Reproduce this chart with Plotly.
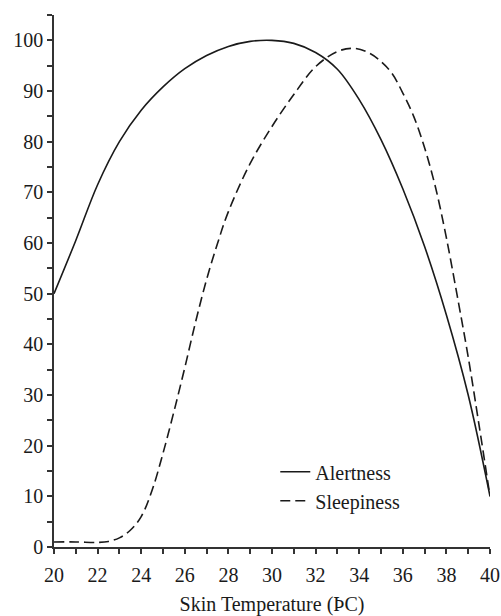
import plotly.graph_objects as go

# Data
temp_alert = [20, 21, 22, 23, 24, 25, 26, 27, 28, 29, 30, 31, 32, 33, 34, 35, 36, 37, 38, 39, 40]
alertness = [50, 60.5, 71.5, 80, 86.2, 90.8, 94.4, 97, 98.8, 99.8, 100, 99.4, 97.6, 94.3, 88.3,
             80.4, 70.7, 59.3, 45.8, 30, 10]

temp_sleep = [20, 21, 22, 22.5, 23, 23.5, 24, 24.5, 25, 25.5, 26, 26.5, 27, 27.5, 28, 29, 30, 31,
              32, 33, 33.8, 34.5, 35, 35.5, 36, 36.5, 37, 37.5, 38, 38.5, 39, 39.5, 40]
sleepiness = [1, 1, 0.9, 1.1, 1.8, 3.3, 6.0, 11.2, 18.5, 26.7, 35.4, 44.5, 52.8, 59.9, 66.2, 75.7,
              83, 89.3, 94.8, 97.8, 98.4, 97.4, 95.8, 93.5, 89.6, 85.0, 78.8, 71.0, 61, 49.5, 37.5,
              24, 10]

x_ticks = [20, 22, 24, 26, 28, 30, 32, 34, 36, 38, 40]
y_ticks = [0, 10, 20, 30, 40, 50, 60, 70, 80, 90, 100]

FONT = "Liberation Serif"
INK = "#1a1a1a"
AX = "#333333"

fig = go.Figure()
fig.add_trace(go.Scatter(
    x=temp_alert, y=alertness, name="Alertness", mode="lines",
    line=dict(color=INK, width=1.6, shape="spline", smoothing=1.0),
))
fig.add_trace(go.Scatter(
    x=temp_sleep, y=sleepiness, name="Sleepiness", mode="lines",
    line=dict(color=INK, width=1.6, dash="10px,5px", shape="spline", smoothing=1.0),
))

fig.update_layout(
    width=501, height=616,
    margin=dict(l=53.5, r=11, t=15, b=68.5),
    paper_bgcolor="white", plot_bgcolor="white",
    font=dict(family=FONT, size=20, color=INK),
    showlegend=True,
    legend=dict(
        x=0.5075, y=0.178, xanchor="left", yanchor="top",
        bgcolor="rgba(0,0,0,0)", borderwidth=0,
        font=dict(family=FONT, size=20, color=INK),
        tracegroupgap=0,
    ),
    xaxis=dict(
        range=[20, 40], tickvals=x_ticks, ticktext=[str(v) for v in x_ticks],
        automargin=False,
        showgrid=False, zeroline=False, showline=True, linecolor=AX, linewidth=1.5,
        ticks="outside", ticklen=5, tickwidth=1.5, tickcolor=AX,
        ticklabelstandoff=4,
        minor=dict(dtick=1, tick0=20, ticks="outside", ticklen=5, tickwidth=1.5,
                   tickcolor=AX, showgrid=False),
        title=dict(text="Skin Temperature (ÞC)", font=dict(family=FONT, size=20, color=INK),
                   standoff=14),
        tickfont=dict(family=FONT, size=20, color=INK),
    ),
    yaxis=dict(
        range=[0, 105], tickvals=y_ticks, ticktext=[str(v) for v in y_ticks],
        automargin=False,
        showgrid=False, zeroline=False, showline=True, linecolor=AX, linewidth=1.5,
        ticks="outside", ticklen=5, tickwidth=1.5, tickcolor=AX,
        minor=dict(dtick=5, tick0=0, ticks="outside", ticklen=5, tickwidth=1.5,
                   tickcolor=AX, showgrid=False),
        tickfont=dict(family=FONT, size=20, color=INK),
    ),
)

fig.write_html(
    "out.html",
    config={"displayModeBar": False},
    post_script="document.body.style.margin='0';document.body.style.overflow='hidden';",
)
